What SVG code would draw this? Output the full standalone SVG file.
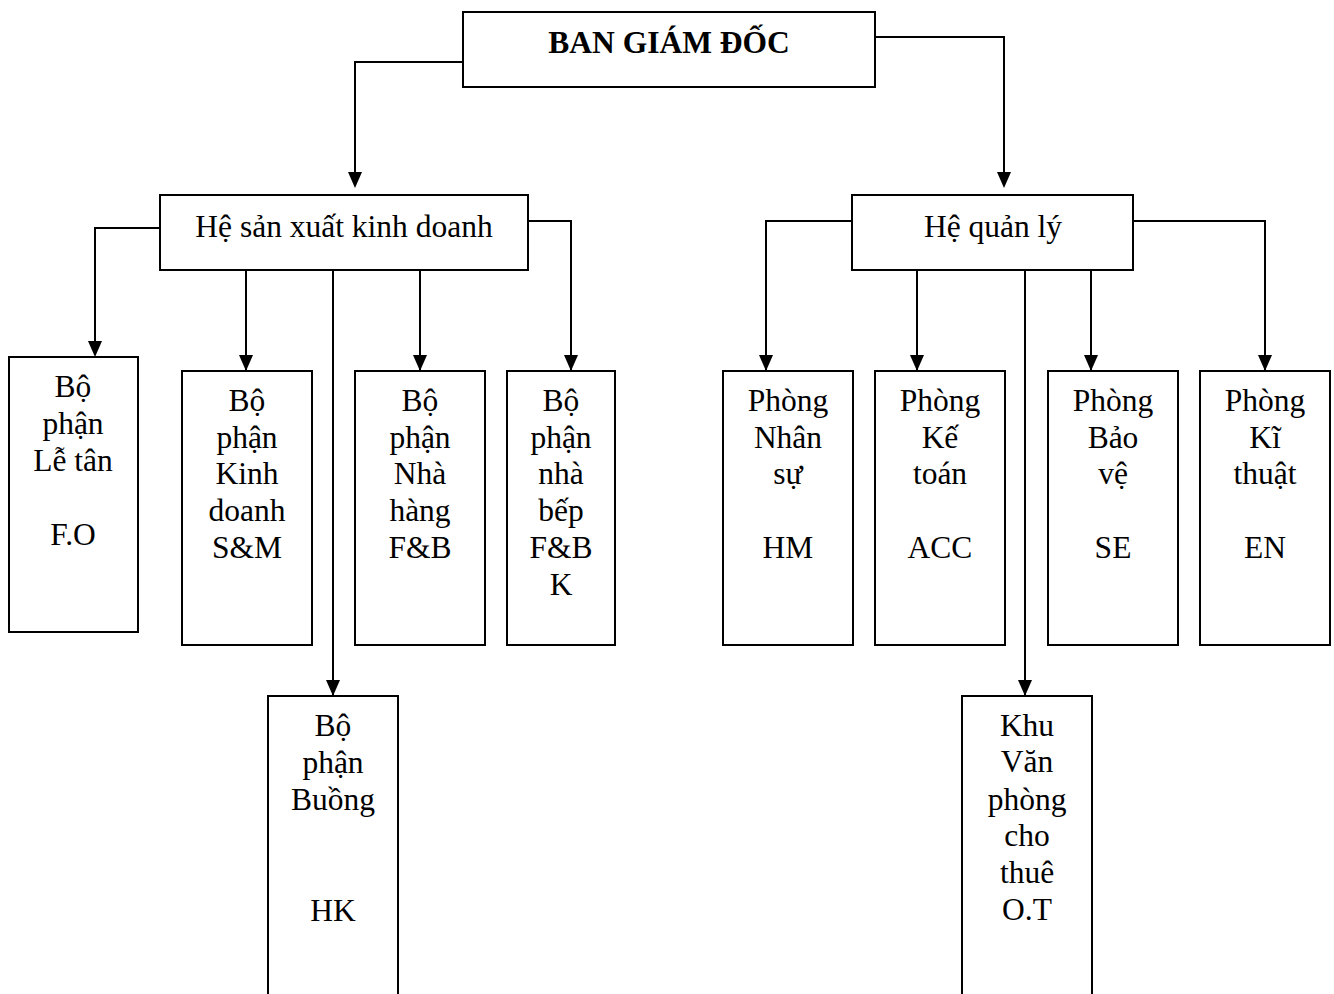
<svg xmlns="http://www.w3.org/2000/svg" width="1334" height="994" viewBox="0 0 1334 994">
<style>
.box{fill:#fff;stroke:#000;stroke-width:2}
.t{font-family:'Liberation Serif','Times New Roman','DejaVu Serif',serif;font-size:31.5px;fill:#000;text-anchor:middle}
.b{font-weight:bold}
.c{fill:none;stroke:#000;stroke-width:2}
</style>
<rect width="1334" height="994" fill="#fff"/>
<g id="connectors">
<path class="c" d="M463,62 H355 V186"/>
<path class="c" d="M875,37 H1004 V186"/>
<path class="c" d="M160,228 H95 V355"/>
<path class="c" d="M246,270 V370"/>
<path class="c" d="M333,270 V695"/>
<path class="c" d="M420,270 V370"/>
<path class="c" d="M528,221 H571 V370"/>
<path class="c" d="M852,221 H766 V370"/>
<path class="c" d="M917,270 V370"/>
<path class="c" d="M1025,270 V695"/>
<path class="c" d="M1091,270 V370"/>
<path class="c" d="M1133,221 H1265 V370"/>
<g fill="#000">
<path d="M348,172 L362,172 L355,188 Z"/>
<path d="M997,172 L1011,172 L1004,188 Z"/>
<path d="M88,341 L102,341 L95,357 Z"/>
<path d="M239,355 L253,355 L246,371 Z"/>
<path d="M326,680 L340,680 L333,696 Z"/>
<path d="M413,355 L427,355 L420,371 Z"/>
<path d="M564,355 L578,355 L571,371 Z"/>
<path d="M759,355 L773,355 L766,371 Z"/>
<path d="M910,355 L924,355 L917,371 Z"/>
<path d="M1018,680 L1032,680 L1025,696 Z"/>
<path d="M1084,355 L1098,355 L1091,371 Z"/>
<path d="M1258,355 L1272,355 L1265,371 Z"/>
</g>
</g>
<g id="bgd">
<rect class="box" x="463" y="12" width="412" height="75"/>
<text class="t b" x="669" y="53">BAN GIÁM ĐỐC</text>
</g>
<g id="hsx">
<rect class="box" x="160" y="195" width="368" height="75"/>
<text class="t" x="344" y="237">Hệ sản xuất kinh doanh</text>
</g>
<g id="hql">
<rect class="box" x="852" y="195" width="281" height="75"/>
<text class="t" x="993" y="237">Hệ quản lý</text>
</g>
<g id="fo">
<rect class="box" x="9" y="357" width="129" height="275"/>
<text class="t" x="73" y="397">Bộ</text>
<text class="t" x="73" y="434">phận</text>
<text class="t" x="73" y="471">Lễ tân</text>
<text class="t" x="73" y="545">F.O</text>
</g>
<g id="sm">
<rect class="box" x="182" y="371" width="130" height="274"/>
<text class="t" x="247" y="411">Bộ</text>
<text class="t" x="247" y="448">phận</text>
<text class="t" x="247" y="484">Kinh</text>
<text class="t" x="247" y="521">doanh</text>
<text class="t" x="247" y="558">S&amp;M</text>
</g>
<g id="fb">
<rect class="box" x="355" y="371" width="130" height="274"/>
<text class="t" x="420" y="411">Bộ</text>
<text class="t" x="420" y="448">phận</text>
<text class="t" x="420" y="484">Nhà</text>
<text class="t" x="420" y="521">hàng</text>
<text class="t" x="420" y="558">F&amp;B</text>
</g>
<g id="fbk">
<rect class="box" x="507" y="371" width="108" height="274"/>
<text class="t" x="561" y="411">Bộ</text>
<text class="t" x="561" y="448">phận</text>
<text class="t" x="561" y="484">nhà</text>
<text class="t" x="561" y="521">bếp</text>
<text class="t" x="561" y="558">F&amp;B</text>
<text class="t" x="561" y="595">K</text>
</g>
<g id="hk">
<rect class="box" x="268" y="696" width="130" height="310"/>
<text class="t" x="333" y="736">Bộ</text>
<text class="t" x="333" y="773">phận</text>
<text class="t" x="333" y="810">Buồng</text>
<text class="t" x="333" y="921">HK</text>
</g>
<g id="hm">
<rect class="box" x="723" y="371" width="130" height="274"/>
<text class="t" x="788" y="411">Phòng</text>
<text class="t" x="788" y="448">Nhân</text>
<text class="t" x="788" y="484">sự</text>
<text class="t" x="788" y="558">HM</text>
</g>
<g id="acc">
<rect class="box" x="875" y="371" width="130" height="274"/>
<text class="t" x="940" y="411">Phòng</text>
<text class="t" x="940" y="448">Kế</text>
<text class="t" x="940" y="484">toán</text>
<text class="t" x="940" y="558">ACC</text>
</g>
<g id="se">
<rect class="box" x="1048" y="371" width="130" height="274"/>
<text class="t" x="1113" y="411">Phòng</text>
<text class="t" x="1113" y="448">Bảo</text>
<text class="t" x="1113" y="484">vệ</text>
<text class="t" x="1113" y="558">SE</text>
</g>
<g id="en">
<rect class="box" x="1200" y="371" width="130" height="274"/>
<text class="t" x="1265" y="411">Phòng</text>
<text class="t" x="1265" y="448">Kĩ</text>
<text class="t" x="1265" y="484">thuật</text>
<text class="t" x="1265" y="558">EN</text>
</g>
<g id="ot">
<rect class="box" x="962" y="696" width="130" height="310"/>
<text class="t" x="1027" y="736">Khu</text>
<text class="t" x="1027" y="772">Văn</text>
<text class="t" x="1027" y="810">phòng</text>
<text class="t" x="1027" y="846">cho</text>
<text class="t" x="1027" y="883">thuê</text>
<text class="t" x="1027" y="920">O.T</text>
</g>
</svg>
